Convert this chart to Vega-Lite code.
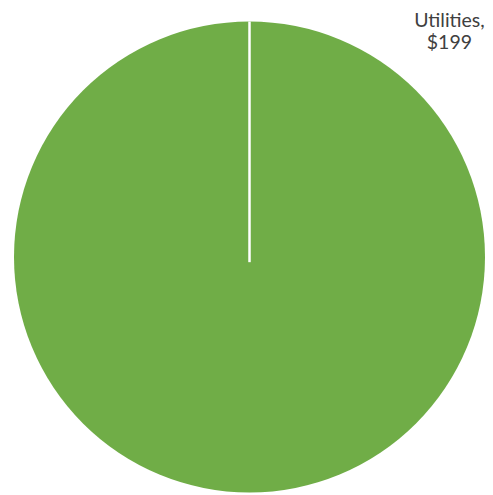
{
  "$schema": "https://vega.github.io/schema/vega-lite/v6.json",
  "width": 471,
  "height": 471,
  "autosize": "none",
  "padding": {"left": 14, "top": 21.5, "right": 8, "bottom": 2.5},
  "background": "white",
  "config": {"view": {"stroke": null}},
  "data": {"values": [{"category": "Utilities", "value": 199}]},
  "layer": [
    {
      "mark": {"type": "arc", "color": "#70AD47", "stroke": null},
      "encoding": {
        "theta": {"field": "value", "type": "quantitative", "stack": true},
        "radius": {"value": 235.5}
      }
    },
    {
      "mark": {"type": "rule", "color": "white", "strokeWidth": 2.5},
      "encoding": {
        "x": {"datum": 0, "type": "quantitative", "scale": {"domain": [-1, 1]}, "axis": null},
        "y": {"datum": -0.022, "type": "quantitative", "scale": {"domain": [-1, 1]}, "axis": null},
        "y2": {"datum": 1}
      }
    },
    {
      "transform": [{"calculate": "[datum.category + ',', '$' + datum.value]", "as": "label"}],
      "mark": {"type": "text", "font": "Lato", "fontSize": 19.5, "color": "#404040", "align": "center", "baseline": "alphabetic", "lineHeight": 22.6},
      "encoding": {
        "x": {"datum": 0.849, "type": "quantitative", "scale": {"domain": [-1, 1]}, "axis": null},
        "y": {"datum": 0.978, "type": "quantitative", "scale": {"domain": [-1, 1]}, "axis": null},
        "text": {"field": "label"}
      }
    }
  ]
}
